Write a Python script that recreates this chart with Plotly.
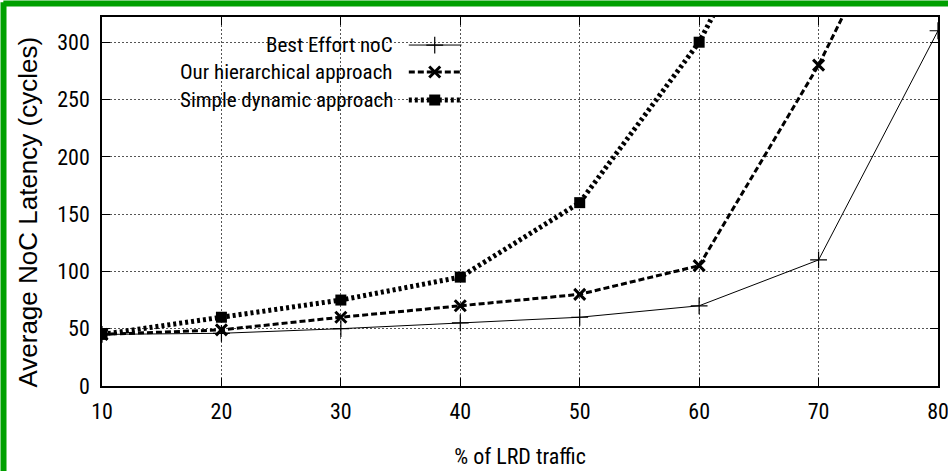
import plotly.graph_objects as go

# ---- data ----
lrd_pct = [10, 20, 30, 40, 50, 60, 70, 80]
best_effort = [45, 46, 50, 55, 60, 70, 110, 310]
hier_x = [10, 20, 30, 40, 50, 60, 70, 80]
hierarchical = [45, 49, 60, 70, 80, 105, 280, 490]
simple_x = [10, 20, 30, 40, 50, 60, 70]
simple_dynamic = [45, 60, 75, 95, 160, 300, 500]

x_ticks = [10, 20, 30, 40, 50, 60, 70, 80]
y_ticks = [0, 50, 100, 150, 200, 250, 300]

series_names = ["Best Effort noC", "Our hierarchical approach", "Simple dynamic approach"]

NARROW = "Roboto Condensed, sans-serif"
REG = "Liberation Sans, Arial, sans-serif"

styles = [
    dict(line=dict(color="black", width=1), marker=dict(symbol="cross-thin", size=12, line=dict(color="black", width=1.2))),
    dict(line=dict(color="black", width=3, dash="6px,3px"), marker=dict(symbol="x-thin", size=11, line=dict(color="black", width=3))),
    dict(line=dict(color="black", width=5, dash="3px,3px"), marker=dict(symbol="square", size=11, color="black")),
]

fig = go.Figure()
xs = [lrd_pct, hier_x, simple_x]
ys = [best_effort, hierarchical, simple_dynamic]
for name, x, y, st in zip(series_names, xs, ys, styles):
    fig.add_trace(go.Scatter(x=x, y=y, name=name, mode="lines+markers",
                             line=st["line"], marker=st["marker"], showlegend=False))

# ---- manual legend (symbols to the right of the text, as in the original) ----
leg_text_x = 0.350
leg_rows_y = [0.924, 0.851, 0.775]
leg_line_x = [0.367, 0.430]
leg_mark_x = 0.398
for name, ly, st in zip(series_names, leg_rows_y, styles):
    fig.add_trace(go.Scatter(x=leg_line_x, y=[ly, ly], mode="lines", line=st["line"],
                             xaxis="x2", yaxis="y2", showlegend=False, hoverinfo="skip"))
    fig.add_trace(go.Scatter(x=[leg_mark_x], y=[ly], mode="markers", marker=st["marker"],
                             xaxis="x2", yaxis="y2", showlegend=False, hoverinfo="skip"))
    fig.add_annotation(x=leg_text_x, y=ly, xref="paper", yref="paper", text=name,
                       showarrow=False, xanchor="right", yanchor="middle",
                       font=dict(family=NARROW, size=21, color="black"))

shapes = [
    # white box behind legend
    dict(type="rect", xref="paper", yref="paper", x0=0.004, x1=0.435, y0=0.74, y1=0.965,
         fillcolor="white", line=dict(width=0), layer="between"),
    # green frame (top and left)
    dict(type="line", xref="paper", yref="paper", x0=-0.118, x1=1.02, y0=1.0366, y1=1.0366,
         line=dict(color="#00a000", width=6)),
    dict(type="line", xref="paper", yref="paper", x0=-0.1178, x1=-0.1178, y0=-0.24, y1=1.04,
         line=dict(color="#00a000", width=6)),
]

axis_common = dict(showline=True, linecolor="black", linewidth=1.5, mirror="ticks",
                   ticks="inside", ticklen=8, tickwidth=1.2, tickcolor="black",
                   showgrid=True, gridcolor="#555555", gridwidth=1, griddash="2px,2px",
                   zeroline=False, automargin=False, ticklabeloverflow="allow",
                   tickfont=dict(family=NARROW, size=22, color="black"))

fig.update_layout(
    width=948, height=471,
    margin=dict(l=102, r=10, t=17, b=85),
    paper_bgcolor="white", plot_bgcolor="white",
    xaxis=dict(range=[10, 80], tickvals=x_ticks, ticklabelstandoff=5,
               title=dict(text="% of LRD traffic", font=dict(family=NARROW, size=22, color="black"), standoff=25),
               **axis_common),
    yaxis=dict(range=[0, 322], tickvals=y_ticks, ticklabelstandoff=6, **axis_common),
    xaxis2=dict(overlaying="x", range=[0, 1], visible=False),
    yaxis2=dict(overlaying="y", range=[0, 1], visible=False),
    shapes=shapes,
)
fig.add_annotation(x=-0.0885, y=0.47, xref="paper", yref="paper", text="Average NoC Latency (cycles)",
                   textangle=-90, showarrow=False, xanchor="center", yanchor="middle",
                   font=dict(family=REG, size=26, color="black"))

fig.write_html("out.html", config={"displayModeBar": False},
               post_script="document.body.style.margin='0px';document.body.style.overflow='hidden';")
